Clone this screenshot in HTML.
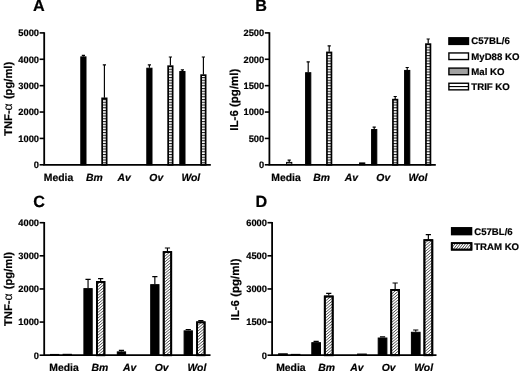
<!DOCTYPE html>
<html lang="en">
<head>
<meta charset="utf-8">
<title>Figure</title>
<style>
html,body{margin:0;padding:0;background:#fff;}
body{width:520px;height:371px;overflow:hidden;}
svg{display:block;font-family:"Liberation Sans", Arial, Helvetica, sans-serif;font-weight:bold;fill:#000;}
text{stroke:#000;stroke-width:0.2px;text-rendering:geometricPrecision;}
.pl{font-size:16.2px;}
.yl{font-size:11.2px;}
.tl{font-size:9.3px;}
.gl{font-size:10.4px;}
.it{font-style:italic;}
.al{font-weight:normal;font-size:12.2px;stroke-width:0.1px;}
.lg{font-size:9.65px;}
.axl{fill:none;stroke:#000;stroke-width:1.8;stroke-linejoin:miter;}
.tk{fill:none;stroke:#000;stroke-width:1.6;}
.er{fill:none;stroke:#000;stroke-width:1.15;}
.br{stroke:#000;stroke-width:1;}
.bh{stroke:#000;stroke-width:1.7;}
.lb{stroke:#000;stroke-width:1.4;}
.bd{stroke:#000;stroke-width:1.8;}
.ht{fill:none;stroke:#000;stroke-width:0.7;}
</style>
</head>
<body>
<svg width="520" height="371" viewBox="0 0 520 371">
<defs>
<pattern id="hz" width="8" height="2.75" patternUnits="userSpaceOnUse">
<rect width="8" height="2.75" fill="#fff"/>
<rect y="0" width="8" height="1.1" fill="#222"/>
</pattern>
</defs>
<rect width="520" height="371" fill="#fff"/>
<text transform="translate(33 11.2)" class="pl">A</text>
<text transform="translate(11.8 98.85) rotate(-90)" class="yl" text-anchor="middle">TNF-<tspan class="al">α</tspan><tspan dx="1.1"> (pg/ml)</tspan></text>
<path d="M83.4 56.38V55.32M81.8 55.32H85" class="er"/>
<rect x="80.8" y="56.88" width="5.2" height="107.92" fill="#000" class="br"/>
<path d="M104.4 97.66V64.82M102.8 64.82H106" class="er"/>
<rect x="102.15" y="98.36" width="4.5" height="66.44" fill="url(#hz)" class="bh"/>
<path d="M149.4 67.72V64.82M147.8 64.82H151" class="er"/>
<rect x="146.8" y="68.22" width="5.2" height="96.58" fill="#000" class="br"/>
<path d="M170.4 65.48V57.04M168.8 57.04H172" class="er"/>
<rect x="168.15" y="66.18" width="4.5" height="98.62" fill="url(#hz)" class="bh"/>
<path d="M182.4 71.02V69.83M180.8 69.83H184" class="er"/>
<rect x="179.8" y="71.52" width="5.2" height="93.28" fill="#000" class="br"/>
<path d="M203.4 74.45V57.04M201.8 57.04H205" class="er"/>
<rect x="201.15" y="75.15" width="4.5" height="89.65" fill="url(#hz)" class="bh"/>
<path d="M44.2 32.15V164.8H210.8" class="axl"/>
<path d="M39.6 164.8H44.2" class="tk"/>
<text transform="translate(39 168.1)" class="tl" text-anchor="end">0</text>
<path d="M39.6 138.42H44.2" class="tk"/>
<text transform="translate(39 141.72)" class="tl" text-anchor="end">1000</text>
<path d="M39.6 112.04H44.2" class="tk"/>
<text transform="translate(39 115.34)" class="tl" text-anchor="end">2000</text>
<path d="M39.6 85.66H44.2" class="tk"/>
<text transform="translate(39 88.96)" class="tl" text-anchor="end">3000</text>
<path d="M39.6 59.28H44.2" class="tk"/>
<text transform="translate(39 62.58)" class="tl" text-anchor="end">4000</text>
<path d="M39.6 32.9H44.2" class="tk"/>
<text transform="translate(39 36.2)" class="tl" text-anchor="end">5000</text>
<text transform="translate(58.5 180.5)" class="gl" text-anchor="middle">Media</text>
<text transform="translate(94.4 180.5)" class="gl it" text-anchor="middle">Bm</text>
<text transform="translate(124.2 180.5)" class="gl it" text-anchor="middle">Av</text>
<text transform="translate(156.3 180.5)" class="gl it" text-anchor="middle">Ov</text>
<text transform="translate(190.8 180.5)" class="gl it" text-anchor="middle">Wol</text>
<text transform="translate(255.3 11.2)" class="pl">B</text>
<text transform="translate(237.9 99.65) rotate(-90)" class="yl" text-anchor="middle"><tspan font-size="11.5">IL-6 (pg/ml)</tspan></text>
<path d="M289.2 161.9V160.16M287.6 160.16H290.8" class="er"/>
<rect x="286.6" y="162.4" width="5.2" height="2.4" fill="#a0a0a0" class="br"/>
<path d="M308.2 72.21V61.92M306.6 61.92H309.8" class="er"/>
<rect x="305.6" y="72.71" width="5.2" height="92.09" fill="#000" class="br"/>
<path d="M329.2 51.74V45.83M327.6 45.83H330.8" class="er"/>
<rect x="326.95" y="52.44" width="4.5" height="112.36" fill="url(#hz)" class="bh"/>
<rect x="359.6" y="162.93" width="5.2" height="1.87" fill="#000" class="br"/>
<path d="M374.2 129.03V127.08M372.6 127.08H375.8" class="er"/>
<rect x="371.6" y="129.53" width="5.2" height="35.27" fill="#000" class="br"/>
<path d="M395.2 98.96V96.48M393.6 96.48H396.8" class="er"/>
<rect x="392.95" y="99.66" width="4.5" height="65.14" fill="url(#hz)" class="bh"/>
<path d="M407.2 69.94V67.46M405.6 67.46H408.8" class="er"/>
<rect x="404.6" y="70.44" width="5.2" height="94.36" fill="#000" class="br"/>
<path d="M428.2 43.45V38.97M426.6 38.97H429.8" class="er"/>
<rect x="425.95" y="44.15" width="4.5" height="120.65" fill="url(#hz)" class="bh"/>
<path d="M269.4 32.15V164.8H435.8" class="axl"/>
<path d="M264.8 164.8H269.4" class="tk"/>
<text transform="translate(264.2 168.1)" class="tl" text-anchor="end">0</text>
<path d="M264.8 138.42H269.4" class="tk"/>
<text transform="translate(264.2 141.72)" class="tl" text-anchor="end">500</text>
<path d="M264.8 112.04H269.4" class="tk"/>
<text transform="translate(264.2 115.34)" class="tl" text-anchor="end">1000</text>
<path d="M264.8 85.66H269.4" class="tk"/>
<text transform="translate(264.2 88.96)" class="tl" text-anchor="end">1500</text>
<path d="M264.8 59.28H269.4" class="tk"/>
<text transform="translate(264.2 62.58)" class="tl" text-anchor="end">2000</text>
<path d="M264.8 32.9H269.4" class="tk"/>
<text transform="translate(264.2 36.2)" class="tl" text-anchor="end">2500</text>
<text transform="translate(286 180.5)" class="gl" text-anchor="middle">Media</text>
<text transform="translate(321.7 180.5)" class="gl it" text-anchor="middle">Bm</text>
<text transform="translate(351.3 180.5)" class="gl it" text-anchor="middle">Av</text>
<text transform="translate(383.3 180.5)" class="gl it" text-anchor="middle">Ov</text>
<text transform="translate(418 180.5)" class="gl it" text-anchor="middle">Wol</text>
<text transform="translate(33.2 206.5)" class="pl">C</text>
<text transform="translate(11.8 288.95) rotate(-90)" class="yl" text-anchor="middle">TNF-<tspan class="al">α</tspan><tspan dx="1.1"> (pg/ml)</tspan></text>
<rect x="50.5" y="354.44" width="8.3" height="0.76" fill="#000" class="br"/>
<rect x="63.1" y="354.31" width="8.3" height="0.89" fill="#000" class="br"/>
<path d="M88.05 288.12V279.34M85.45 279.34H90.65" class="er"/>
<rect x="83.9" y="288.62" width="8.3" height="66.58" fill="#000" class="br"/>
<path d="M100.65 281V278.68M98.05 278.68H103.25" class="er"/>
<rect x="96.9" y="281.9" width="7.5" height="73.3" fill="#fff" class="bd"/>
<path d="M121.45 351.39V350.4M118.85 350.4H124.05" class="er"/>
<rect x="117.3" y="351.89" width="8.3" height="3.31" fill="#000" class="br"/>
<path d="M154.85 284.15V276.69M152.25 276.69H157.45" class="er"/>
<rect x="150.7" y="284.65" width="8.3" height="70.55" fill="#000" class="br"/>
<path d="M167.45 251.19V248.04M164.85 248.04H170.05" class="er"/>
<rect x="163.7" y="252.09" width="7.5" height="103.11" fill="#fff" class="bd"/>
<path d="M188.25 330.36V329.53M185.65 329.53H190.85" class="er"/>
<rect x="184.1" y="330.86" width="8.3" height="24.34" fill="#000" class="br"/>
<path d="M200.85 321.41V320.58M198.25 320.58H203.45" class="er"/>
<rect x="197.1" y="322.31" width="7.5" height="32.89" fill="#fff" class="bd"/>
<path d="M44.2 221.95V355.2H210.5" class="axl"/>
<path d="M39.6 355.2H44.2" class="tk"/>
<text transform="translate(39 358.5)" class="tl" text-anchor="end">0</text>
<path d="M39.6 322.07H44.2" class="tk"/>
<text transform="translate(39 325.38)" class="tl" text-anchor="end">1000</text>
<path d="M39.6 288.95H44.2" class="tk"/>
<text transform="translate(39 292.25)" class="tl" text-anchor="end">2000</text>
<path d="M39.6 255.82H44.2" class="tk"/>
<text transform="translate(39 259.12)" class="tl" text-anchor="end">3000</text>
<path d="M39.6 222.7H44.2" class="tk"/>
<text transform="translate(39 226)" class="tl" text-anchor="end">4000</text>
<text transform="translate(64 371.2)" class="gl" text-anchor="middle">Media</text>
<text transform="translate(99.8 371.2)" class="gl it" text-anchor="middle">Bm</text>
<text transform="translate(129.6 371.2)" class="gl it" text-anchor="middle">Av</text>
<text transform="translate(161.7 371.2)" class="gl it" text-anchor="middle">Ov</text>
<text transform="translate(196.9 371.2)" class="gl it" text-anchor="middle">Wol</text>
<text transform="translate(255.5 206.5)" class="pl">D</text>
<text transform="translate(239.3 289.45) rotate(-90)" class="yl" text-anchor="middle"><tspan font-size="11.5">IL-6 (pg/ml)</tspan></text>
<rect x="278.6" y="353.82" width="8.7" height="1.38" fill="#000" class="br"/>
<rect x="291.2" y="354.38" width="8.7" height="0.82" fill="#000" class="br"/>
<path d="M316.15 342.17V341.4M313.55 341.4H318.75" class="er"/>
<rect x="311.8" y="342.67" width="8.7" height="12.53" fill="#000" class="br"/>
<path d="M328.75 295.57V293.37M326.15 293.37H331.35" class="er"/>
<rect x="324.8" y="296.47" width="7.9" height="58.73" fill="#fff" class="bd"/>
<rect x="357.6" y="354.04" width="8.7" height="1.16" fill="#777" class="br"/>
<path d="M382.55 337.53V336.87M379.95 336.87H385.15" class="er"/>
<rect x="378.2" y="338.03" width="8.7" height="17.17" fill="#000" class="br"/>
<path d="M395.15 289.06V282.99M392.55 282.99H397.75" class="er"/>
<rect x="391.2" y="289.96" width="7.9" height="65.24" fill="#fff" class="bd"/>
<path d="M415.75 331.79V330.02M413.15 330.02H418.35" class="er"/>
<rect x="411.4" y="332.29" width="8.7" height="22.91" fill="#000" class="br"/>
<path d="M428.35 239.26V234.62M425.75 234.62H430.95" class="er"/>
<rect x="424.4" y="240.16" width="7.9" height="115.04" fill="#fff" class="bd"/>
<path d="M272.1 221.95V355.2H436.5" class="axl"/>
<path d="M267.5 355.2H272.1" class="tk"/>
<text transform="translate(266.9 358.5)" class="tl" text-anchor="end">0</text>
<path d="M267.5 322.07H272.1" class="tk"/>
<text transform="translate(266.9 325.38)" class="tl" text-anchor="end">1500</text>
<path d="M267.5 288.95H272.1" class="tk"/>
<text transform="translate(266.9 292.25)" class="tl" text-anchor="end">3000</text>
<path d="M267.5 255.82H272.1" class="tk"/>
<text transform="translate(266.9 259.12)" class="tl" text-anchor="end">4500</text>
<path d="M267.5 222.7H272.1" class="tk"/>
<text transform="translate(266.9 226)" class="tl" text-anchor="end">6000</text>
<text transform="translate(290.9 371.2)" class="gl" text-anchor="middle">Media</text>
<text transform="translate(326.6 371.2)" class="gl it" text-anchor="middle">Bm</text>
<text transform="translate(356.8 371.2)" class="gl it" text-anchor="middle">Av</text>
<text transform="translate(388.7 371.2)" class="gl it" text-anchor="middle">Ov</text>
<text transform="translate(423.6 371.2)" class="gl it" text-anchor="middle">Wol</text>
<rect x="448.9" y="37.8" width="19.6" height="6.6" fill="#000" stroke="#000" stroke-width="1.4"/>
<text transform="translate(471.3 44.4)" class="lg">C57BL/6</text>
<rect x="448.9" y="52.95" width="19.6" height="6.6" fill="#fff" stroke="#000" stroke-width="1.4"/>
<text transform="translate(471.3 59.55)" class="lg">MyD88 KO</text>
<rect x="448.9" y="68.1" width="19.6" height="6.6" fill="#a0a0a0" stroke="#000" stroke-width="1.4"/>
<text transform="translate(471.3 74.7)" class="lg">Mal KO</text>
<rect x="448.9" y="83.25" width="19.6" height="6.6" fill="#fff" class="lb"/>
<path d="M448.9 86.55h19.6" class="er"/>
<text transform="translate(471.3 89.85)" class="lg">TRIF KO</text>
<rect x="451.8" y="227.95" width="19.6" height="6.5" fill="#000" stroke="#000" stroke-width="1.8"/>
<text transform="translate(474.2 234.5)" class="lg">C57BL/6</text>
<rect x="451.8" y="243.15" width="19.6" height="6.5" fill="#fff" stroke="#000" stroke-width="1.8"/>
<text transform="translate(474.2 249.7)" class="lg">TRAM KO</text>
<clipPath id="hc"><rect x="96.9" y="281.9" width="7.5" height="73.3"/><rect x="163.7" y="252.09" width="7.5" height="103.11"/><rect x="197.1" y="322.31" width="7.5" height="32.89"/><rect x="324.8" y="296.47" width="7.9" height="58.73"/><rect x="391.2" y="289.96" width="7.9" height="65.24"/><rect x="424.4" y="240.16" width="7.9" height="115.04"/></clipPath><path clip-path="url(#hc)" class="ht" d="M-67.31 357l157.31 -132M-63.91 357l157.31 -132M-60.52 357l157.31 -132M-57.12 357l157.31 -132M-53.73 357l157.31 -132M-50.33 357l157.31 -132M-46.93 357l157.31 -132M-43.54 357l157.31 -132M-40.14 357l157.31 -132M-36.74 357l157.31 -132M-33.35 357l157.31 -132M-29.95 357l157.31 -132M-26.55 357l157.31 -132M-23.16 357l157.31 -132M-19.76 357l157.31 -132M-16.36 357l157.31 -132M-12.97 357l157.31 -132M-9.57 357l157.31 -132M-6.17 357l157.31 -132M-2.78 357l157.31 -132M0.62 357l157.31 -132M4.01 357l157.31 -132M7.41 357l157.31 -132M10.81 357l157.31 -132M14.2 357l157.31 -132M17.6 357l157.31 -132M21 357l157.31 -132M24.39 357l157.31 -132M27.79 357l157.31 -132M31.19 357l157.31 -132M34.58 357l157.31 -132M37.98 357l157.31 -132M41.38 357l157.31 -132M44.77 357l157.31 -132M48.17 357l157.31 -132M51.57 357l157.31 -132M54.96 357l157.31 -132M58.36 357l157.31 -132M61.76 357l157.31 -132M65.15 357l157.31 -132M68.55 357l157.31 -132M71.94 357l157.31 -132M75.34 357l157.31 -132M78.74 357l157.31 -132M82.13 357l157.31 -132M85.53 357l157.31 -132M88.93 357l157.31 -132M92.32 357l157.31 -132M95.72 357l157.31 -132M99.12 357l157.31 -132M102.51 357l157.31 -132M105.91 357l157.31 -132M109.31 357l157.31 -132M112.7 357l157.31 -132M116.1 357l157.31 -132M119.5 357l157.31 -132M122.89 357l157.31 -132M126.29 357l157.31 -132M129.69 357l157.31 -132M133.08 357l157.31 -132M136.48 357l157.31 -132M139.87 357l157.31 -132M143.27 357l157.31 -132M146.67 357l157.31 -132M150.06 357l157.31 -132M153.46 357l157.31 -132M156.86 357l157.31 -132M160.25 357l157.31 -132M163.65 357l157.31 -132M167.05 357l157.31 -132M170.44 357l157.31 -132M173.84 357l157.31 -132M177.24 357l157.31 -132M180.63 357l157.31 -132M184.03 357l157.31 -132M187.43 357l157.31 -132M190.82 357l157.31 -132M194.22 357l157.31 -132M197.62 357l157.31 -132M201.01 357l157.31 -132M204.41 357l157.31 -132M207.8 357l157.31 -132M211.2 357l157.31 -132M214.6 357l157.31 -132M217.99 357l157.31 -132M221.39 357l157.31 -132M224.79 357l157.31 -132M228.18 357l157.31 -132M231.58 357l157.31 -132M234.98 357l157.31 -132M238.37 357l157.31 -132M241.77 357l157.31 -132M245.17 357l157.31 -132M248.56 357l157.31 -132M251.96 357l157.31 -132M255.36 357l157.31 -132M258.75 357l157.31 -132M262.15 357l157.31 -132M265.55 357l157.31 -132M268.94 357l157.31 -132M272.34 357l157.31 -132M275.73 357l157.31 -132M279.13 357l157.31 -132M282.53 357l157.31 -132M285.92 357l157.31 -132M289.32 357l157.31 -132M292.72 357l157.31 -132M296.11 357l157.31 -132M299.51 357l157.31 -132M302.91 357l157.31 -132M306.3 357l157.31 -132M309.7 357l157.31 -132M313.1 357l157.31 -132M316.49 357l157.31 -132M319.89 357l157.31 -132M323.29 357l157.31 -132M326.68 357l157.31 -132M330.08 357l157.31 -132M333.48 357l157.31 -132M336.87 357l157.31 -132M340.27 357l157.31 -132M343.66 357l157.31 -132M347.06 357l157.31 -132M350.46 357l157.31 -132M353.85 357l157.31 -132M357.25 357l157.31 -132M360.65 357l157.31 -132M364.04 357l157.31 -132M367.44 357l157.31 -132M370.84 357l157.31 -132M374.23 357l157.31 -132M377.63 357l157.31 -132M381.03 357l157.31 -132M384.42 357l157.31 -132M387.82 357l157.31 -132M391.22 357l157.31 -132M394.61 357l157.31 -132M398.01 357l157.31 -132M401.41 357l157.31 -132M404.8 357l157.31 -132M408.2 357l157.31 -132M411.59 357l157.31 -132M414.99 357l157.31 -132M418.39 357l157.31 -132M421.78 357l157.31 -132M425.18 357l157.31 -132M428.58 357l157.31 -132M431.97 357l157.31 -132M435.37 357l157.31 -132M438.77 357l157.31 -132"/><clipPath id="hl"><rect x="451.8" y="243.15" width="19.6" height="6.5"/></clipPath><path clip-path="url(#hl)" class="ht" d="M439.06 254l10.94 -14M441.72 254l10.94 -14M444.37 254l10.94 -14M447.03 254l10.94 -14M449.69 254l10.94 -14M452.34 254l10.94 -14M455 254l10.94 -14M457.66 254l10.94 -14M460.31 254l10.94 -14M462.97 254l10.94 -14M465.63 254l10.94 -14M468.28 254l10.94 -14M470.94 254l10.94 -14M473.59 254l10.94 -14"/>
<rect x="96.9" y="281.9" width="7.5" height="73.3" fill="none" class="bd"/><rect x="163.7" y="252.09" width="7.5" height="103.11" fill="none" class="bd"/><rect x="197.1" y="322.31" width="7.5" height="32.89" fill="none" class="bd"/><rect x="324.8" y="296.47" width="7.9" height="58.73" fill="none" class="bd"/><rect x="391.2" y="289.96" width="7.9" height="65.24" fill="none" class="bd"/><rect x="424.4" y="240.16" width="7.9" height="115.04" fill="none" class="bd"/><rect x="451.8" y="243.15" width="19.6" height="6.5" fill="none" class="bd"/>
</svg>
</body>
</html>
